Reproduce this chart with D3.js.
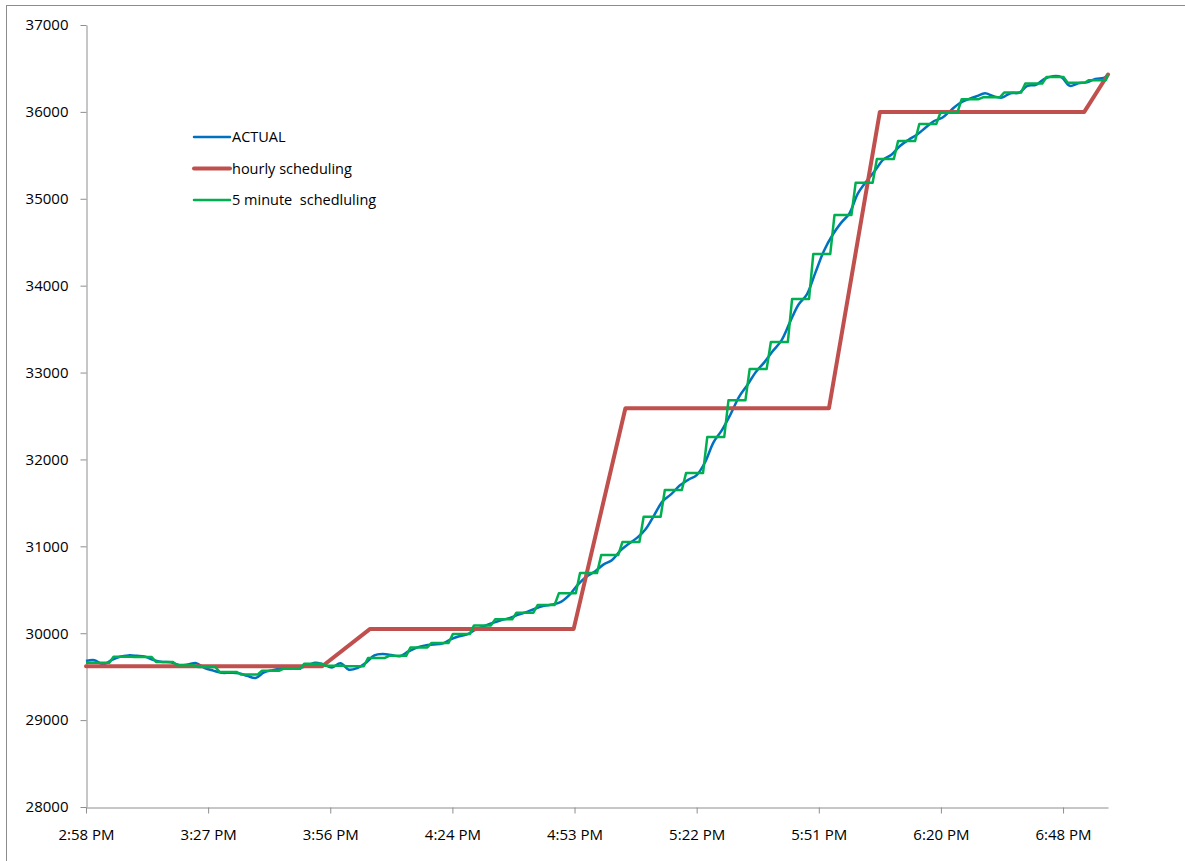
<!DOCTYPE html>
<html>
<head>
<meta charset="utf-8">
<script src="https://cdn.jsdelivr.net/npm/d3@7"></script>
<style>
  html, body { margin: 0; padding: 0; background: #fff; }
  svg { display: block; }
  text { font-family: "Open Sans", "Noto Sans", sans-serif; fill: #000; }
</style>
</head>
<body>
<svg id="chart" width="1185" height="861"></svg>
<script>
// ---------------- DATA ----------------
// time in minutes after 2:58 PM
const xTickLabels = ["2:58 PM","3:27 PM","3:56 PM","4:24 PM","4:53 PM","5:22 PM","5:51 PM","6:20 PM","6:48 PM"];
const xTickStep = 28.8; // minutes (0.02 day)
const yTicks = [28000,29000,30000,31000,32000,33000,34000,35000,36000,37000];

// ACTUAL, sampled every 2 minutes (t = 0,2,...,240) plus last minute 241
const actualTimes = d3.range(0, 241, 2).concat([241]);
const actualValues = [
  29680,29690,29640,29690,29730,29745,29740,29730,29690,29670,
  29665,29635,29640,29655,29600,29570,29545,29545,29540,29510,
  29485,29550,29575,29590,29595,29600,29620,29660,29640,29605,
  29655,29580,29600,29660,29745,29760,29750,29735,29790,29835,
  29860,29870,29880,29930,29965,29990,30045,30085,30120,30152,
  30175,30215,30245,30285,30315,30330,30360,30440,30560,30650,
  30710,30790,30840,30950,31030,31100,31200,31360,31520,31600,
  31700,31765,31820,31970,32200,32340,32520,32720,32860,33010,
  33120,33250,33370,33580,33780,33900,34150,34400,34580,34720,
  34830,35060,35200,35320,35450,35510,35610,35680,35740,35820,
  35895,35935,36020,36100,36145,36180,36215,36180,36165,36215,
  36220,36300,36310,36380,36410,36400,36300,36330,36340,36380,
  36390,36430
];

// hourly scheduling (break points)
const hourlyTimes  = [0,     55.7,  67,    115,   127.2, 175.2, 187.2, 235.4, 241];
const hourlyValues = [29620, 29620, 30050, 30050, 32590, 32590, 36000, 36000, 36430];

// 5 minute scheduling: one level per 5-minute block
// block 0 = [0,1], block i = [5i-4, 5i+1]
const fiveMinValues = [
  29660,29660,29730,29725,29670,29630,29610,29555,29525,29568,
  29590,29650,29625,29620,29715,29740,29836,29888,29990,30090,
  30160,30236,30325,30459,30692,30900,31050,31340,31648,31843,
  32258,32680,33040,33351,33846,34364,34813,35185,35457,35664,
  35860,35995,36146,36168,36222,36326,36402,36335,36365
];
const fiveMinEnd = 36430; // value at last minute (t = 241)
const tEnd = 241;

// ---------------- CHART ----------------
const svg = d3.select("#chart");
const plot = { left: 86, right: 1108, top: 25, bottom: 807 };

const x = d3.scaleLinear().domain([0, tEnd]).range([plot.left, plot.right]);
const y = d3.scaleLinear().domain([28000, 37000]).range([plot.bottom, plot.top]);

// outer border
svg.append("rect")
  .attr("x", 6.5).attr("y", 5.5).attr("width", 1190).attr("height", 870)
  .attr("fill", "none").attr("stroke", "#8c8c8c").attr("stroke-width", 1);

const axisColor = "#8e8e8e";
const fontFam = "Open Sans, Noto Sans, sans-serif";

// Y axis
const yAxis = d3.axisLeft(y).tickValues(yTicks).tickSizeInner(6).tickSizeOuter(0)
  .tickPadding(12).tickFormat(d3.format("d"));
const gy = svg.append("g").attr("transform", `translate(${plot.left + 0.5},0)`).call(yAxis);
gy.select(".domain").attr("stroke", axisColor);
gy.selectAll(".tick line").attr("stroke", axisColor);
gy.selectAll(".tick text").attr("font-size", 15).attr("font-family", fontFam).attr("fill", "#000");

// X axis
const xTickVals = xTickLabels.map((_, i) => i * xTickStep);
const xAxis = d3.axisBottom(x).tickValues(xTickVals).tickSizeInner(6).tickSizeOuter(0)
  .tickPadding(16).tickFormat((d, i) => xTickLabels[i]);
const gx = svg.append("g").attr("transform", `translate(0,${plot.bottom + 0.5})`).call(xAxis);
gx.select(".domain").attr("stroke", axisColor);
gx.selectAll(".tick line").attr("stroke", axisColor);
gx.selectAll(".tick text").attr("font-size", 15).attr("font-family", fontFam).attr("fill", "#000");

// series
const actualData = actualTimes.map((t, i) => [t, actualValues[i]]);
const hourlyData = hourlyTimes.map((t, i) => [t, hourlyValues[i]]);
const fiveData = [];
fiveMinValues.forEach((v, i) => {
  const s = i === 0 ? 0 : Math.max(0, 5 * i - 4) + 0.5;
  const e = Math.min(tEnd, 5 * i + 1) - 0.5;
  fiveData.push([s, v]);
  fiveData.push([Math.max(s, e), v]);
});
fiveData.push([tEnd, fiveMinEnd]);

const lineSmooth = d3.line().x(d => x(d[0])).y(d => y(d[1])).curve(d3.curveCatmullRom.alpha(0.5));
const lineLin = d3.line().x(d => x(d[0])).y(d => y(d[1]));

svg.append("path").datum(actualData).attr("d", lineSmooth)
  .attr("fill", "none").attr("stroke", "#0070C0").attr("stroke-width", 2.5).attr("stroke-linejoin", "round");
svg.append("path").datum(hourlyData).attr("d", lineLin)
  .attr("fill", "none").attr("stroke", "#C0504D").attr("stroke-width", 4).attr("stroke-linejoin", "round").attr("stroke-linecap", "round");
svg.append("path").datum(fiveData).attr("d", lineLin)
  .attr("fill", "none").attr("stroke", "#00B050").attr("stroke-width", 2.5).attr("stroke-linejoin", "round");

// legend
const legendItems = [
  { name: "ACTUAL", color: "#0070C0", w: 2.5 },
  { name: "hourly scheduling", color: "#C0504D", w: 4 },
  { name: "5 minute  schedluling", color: "#00B050", w: 2.5 }
];
const lg = svg.append("g").attr("transform", "translate(194,137)");
legendItems.forEach((it, i) => {
  const g = lg.append("g").attr("transform", `translate(0,${i * 31.5})`);
  g.append("line").attr("x1", 0).attr("x2", 36).attr("y1", 0).attr("y2", 0)
    .attr("stroke", it.color).attr("stroke-width", it.w).attr("stroke-linecap", "round");
  g.append("text").attr("x", 38).attr("y", 0).attr("dy", "0.35em")
    .attr("font-size", 14.5).style("white-space", "pre").text(it.name);
});
</script>
</body>
</html>
